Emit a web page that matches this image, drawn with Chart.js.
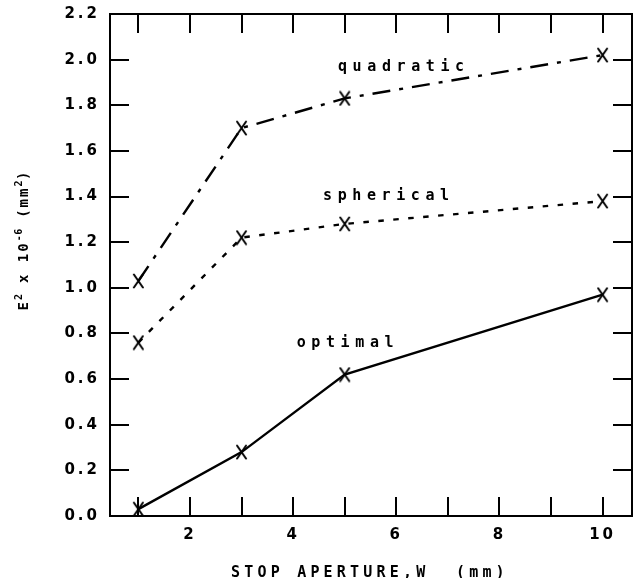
<!DOCTYPE html>
<html>
<head>
<meta charset="utf-8">
<script src="https://cdn.jsdelivr.net/npm/chart.js@4.4.1/dist/chart.umd.min.js"></script>
<style>
  html, body { margin: 0; padding: 0; background: #fff; }
</style>
</head>
<body>
<canvas id="chart" width="641" height="578"></canvas>
<script>
// stop aperture W (mm) and E^2 x 10^-6 (mm^2) for the three correction schemes
const apertures = [1, 3, 5, 10];
const quadratic = [1.03, 1.70, 1.83, 2.02];
const spherical = [0.76, 1.22, 1.28, 1.38];
const optimal = [0.03, 0.28, 0.62, 0.97];

const xTicks = [1, 2, 3, 4, 5, 6, 7, 8, 9, 10];
const xLabelled = [2, 4, 6, 8, 10];
const yTicks = [0, 0.2, 0.4, 0.6, 0.8, 1.0, 1.2, 1.4, 1.6, 1.8, 2.0, 2.2];

const seriesNames = ["quadratic", "spherical", "optimal"];

// where each curve name sits, in data units (left edge, baseline)
const nameSpots = [
  { x: 4.87, y: 1.951 },
  { x: 4.58, y: 1.387 },
  { x: 4.07, y: 0.742 }
];

const MONO = "'DejaVu Sans Mono', monospace";
const SANS = "'DejaVu Sans', sans-serif";
const TICK_SPACING = "3px";

// plotter style "X" marker, a bit taller than wide
function makeMarker() {
  const c = document.createElement("canvas");
  c.width = 13;
  c.height = 16;
  const g = c.getContext("2d");
  g.strokeStyle = "#000";
  g.lineWidth = 2;
  g.lineCap = "round";
  g.beginPath();
  g.moveTo(2, 1.5);
  g.lineTo(11, 14.5);
  g.moveTo(11, 1.5);
  g.lineTo(2, 14.5);
  g.stroke();
  return c;
}
const marker = makeMarker();

function series(values, dash) {
  return {
    data: apertures.map((a, i) => ({ x: a, y: values[i] })),
    borderColor: "#000",
    borderWidth: 2.4,
    borderDash: dash,
    fill: false,
    tension: 0,
    pointStyle: marker,
    pointRadius: 6,
    clip: false
  };
}

// draws the frame with inward ticks, the curve names and both axis titles
const plotterFrame = {
  id: "plotterFrame",
  beforeUpdate(chart) {
    chart.ctx.letterSpacing = TICK_SPACING;
  },
  beforeDraw(chart) {
    chart.ctx.letterSpacing = TICK_SPACING;
  },
  afterDraw(chart) {
    const ctx = chart.ctx;
    const a = chart.chartArea;
    const xs = chart.scales.x;
    const ys = chart.scales.y;
    const tick = 19;

    ctx.save();
    ctx.strokeStyle = "#000";
    ctx.lineWidth = 2;
    ctx.strokeRect(a.left, a.top, a.right - a.left, a.bottom - a.top);

    ctx.beginPath();
    xTicks.forEach(v => {
      const px = Math.round(xs.getPixelForValue(v));
      ctx.moveTo(px, a.bottom);
      ctx.lineTo(px, a.bottom - tick);
      ctx.moveTo(px, a.top);
      ctx.lineTo(px, a.top + tick);
    });
    yTicks.forEach(v => {
      const py = Math.round(ys.getPixelForValue(v));
      ctx.moveTo(a.left, py);
      ctx.lineTo(a.left + tick, py);
      ctx.moveTo(a.right, py);
      ctx.lineTo(a.right - tick, py);
    });
    ctx.stroke();

    ctx.fillStyle = "#000";
    ctx.font = "bold 15px " + MONO;
    ctx.letterSpacing = "5.6px";
    ctx.textBaseline = "alphabetic";
    ctx.textAlign = "left";
    seriesNames.forEach((name, i) => {
      const s = nameSpots[i];
      ctx.fillText(name, xs.getPixelForValue(s.x), ys.getPixelForValue(s.y));
    });

    // x title
    ctx.letterSpacing = "4.2px";
    ctx.textAlign = "left";
    ctx.fillText("STOP APERTURE,W  (mm)", 231, 577);

    // y title with superscripts, rotated
    const parts = [
      ["E", false], ["2", true], [" x 10", false], ["-6", true],
      [" (mm", false], ["2", true], [")", false]
    ];
    const big = "bold 14px " + MONO;
    const small = "bold 10px " + MONO;
    ctx.translate(28, 240);
    ctx.rotate(-Math.PI / 2);
    let total = 0;
    parts.forEach(([t, sup]) => {
      ctx.font = sup ? small : big;
      ctx.letterSpacing = sup ? "0.5px" : "2px";
      total += ctx.measureText(t).width;
    });
    let cx = -total / 2;
    parts.forEach(([t, sup]) => {
      ctx.font = sup ? small : big;
      ctx.letterSpacing = sup ? "0.5px" : "2px";
      ctx.fillText(t, cx, sup ? -6 : 0);
      cx += ctx.measureText(t).width;
    });
    ctx.restore();
  }
};

Chart.defaults.font.family = SANS;
Chart.defaults.font.size = 15;
Chart.defaults.font.weight = "bold";
Chart.defaults.color = "#000";

new Chart(document.getElementById("chart"), {
  type: "line",
  data: {
    datasets: [
      series(quadratic, [18, 9, 4, 9]),
      series(spherical, [5.5, 9.5]),
      series(optimal, [])
    ]
  },
  options: {
    responsive: false,
    animation: false,
    devicePixelRatio: 1,
    layout: { padding: { left: 0, top: 14, right: 9, bottom: 0 } },
    plugins: {
      legend: { display: false },
      tooltip: { enabled: false }
    },
    scales: {
      x: {
        type: "linear",
        min: 0.45,
        max: 10.57,
        grid: { display: false, drawTicks: false },
        border: { display: false },
        afterBuildTicks: s => { s.ticks = xLabelled.map(v => ({ value: v })); },
        ticks: {
          autoSkip: false,
          maxRotation: 0,
          padding: 10,
          callback: v => String(v)
        },
        afterFit: s => {
          s.height = 62;
          s.paddingLeft = 0;
          s.paddingRight = 0;
        }
      },
      y: {
        min: 0,
        max: 2.2,
        grid: { display: false, drawTicks: false },
        border: { display: false },
        afterBuildTicks: s => { s.ticks = yTicks.map(v => ({ value: v })); },
        ticks: {
          autoSkip: false,
          padding: 10,
          callback: v => v.toFixed(1)
        },
        afterFit: s => {
          s.width = 110;
          s.paddingTop = 0;
          s.paddingBottom = 0;
        }
      }
    }
  },
  plugins: [plotterFrame]
});
</script>
</body>
</html>
